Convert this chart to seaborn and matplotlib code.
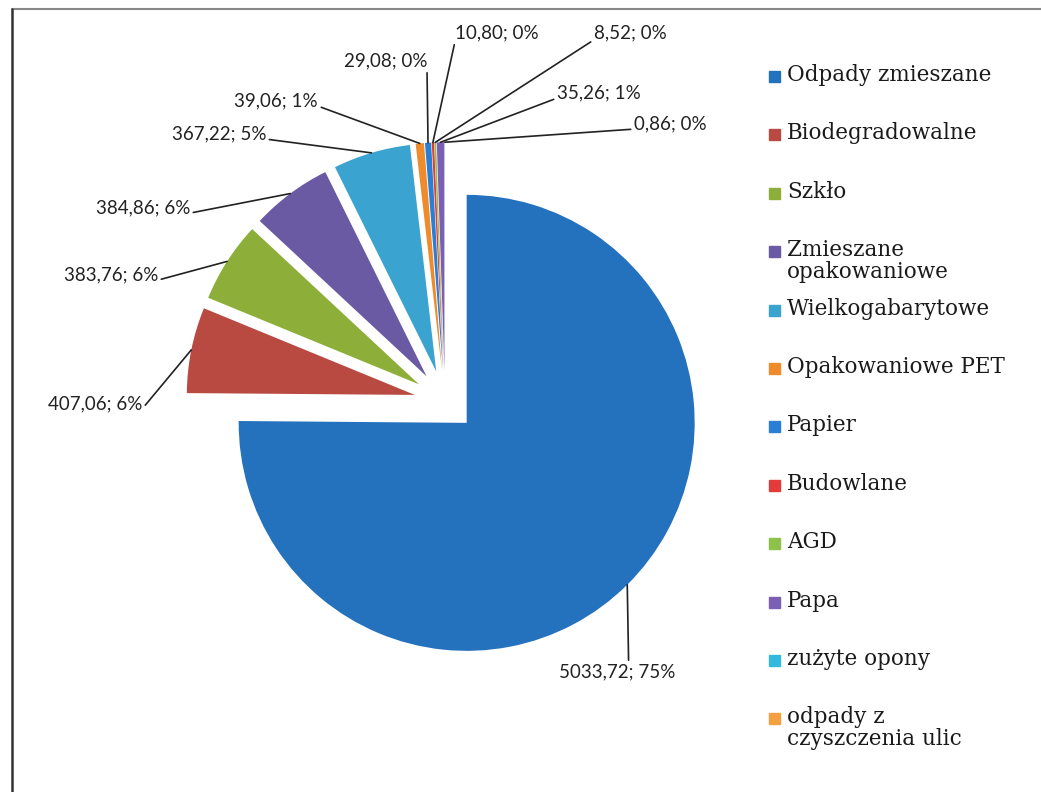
import matplotlib
matplotlib.use('Agg')
import matplotlib.pyplot as plt
import seaborn as sns
import numpy as np
from matplotlib.patches import Rectangle
from matplotlib.lines import Line2D

# dane
kategorie = ['Odpady zmieszane', 'Biodegradowalne', 'Szkło', 'Zmieszane\nopakowaniowe',
             'Wielkogabarytowe', 'Opakowaniowe PET', 'Papier', 'Budowlane', 'AGD', 'Papa',
             'zużyte opony', 'odpady z\nczyszczenia ulic']
wartosci = [5033.72, 407.06, 383.76, 384.86, 367.22, 39.06, 29.08, 10.80, 8.52, 35.26, 0.86, 0.0]
kolory = ['#2471BE', '#B94A42', '#8DAF3A', '#6A5AA3', '#3AA3D0', '#EE8B2C',
          '#2A7FD4', '#E53A3A', '#8EC14A', '#7B5FB5', '#33B8E0', '#F5A040']

# pozycje etykiet (piksele od lewego górnego rogu), wyrównanie, punkt zaczepienia linii
etykiety_poz = [(617, 672, 'center', (0.6, 1.0)),
                (142, 404, 'right', (1.0, 0.2)),
                (158, 275, 'right', (1.0, 0.2)),
                (190, 208, 'right', (1.0, 0.2)),
                (266, 134, 'right', (1.0, 0.2)),
                (318, 101, 'right', (1.0, 0.2)),
                (427, 61, 'right', (1.0, 0.0)),
                (455, 33, 'left', (0.0, 0.0)),
                (594, 33, 'left', (0.0, 0.1)),
                (557, 93, 'left', (0.0, 0.2)),
                (634, 124, 'left', (0.0, 0.2))]

sns.set_style('white')
plt.rcParams['font.family'] = ['Lato', 'DejaVu Sans']

W, H = 1041, 792
fig = plt.figure(figsize=(W / 100, H / 100), dpi=100)

ax = fig.add_axes([160 / W, 106 / H, 570 / W, 570 / H])
wedges, _ = ax.pie(wartosci, colors=kolory, startangle=90, counterclock=False,
                   explode=[0.135] * len(wartosci), radius=1,
                   wedgeprops={'linewidth': 0})
ax.set_xlim(-1.25, 1.25)
ax.set_ylim(-1.25, 1.25)
ax.set_aspect('equal')

suma = sum(wartosci)
for w, v, (x, y, ha, rp) in zip(wedges, wartosci, etykiety_poz):
    kat = np.deg2rad((w.theta1 + w.theta2) / 2)
    cx, cy = w.center
    px, py = cx + w.r * np.cos(kat), cy + w.r * np.sin(kat)
    tekst = f'{v:.2f}'.replace('.', ',') + f'; {round(v / suma * 100):.0f}%'
    ax.annotate(tekst, xy=(px, py), xytext=(x, H - y), textcoords='figure pixels',
                ha=ha, va='center', fontsize=13.5, color='#222222',
                arrowprops=dict(arrowstyle='-', color='#222222', lw=1.2,
                                shrinkA=0, shrinkB=0, relpos=rp))

# legenda
lax = fig.add_axes([0, 0, 1, 1])
lax.set_xlim(0, W)
lax.set_ylim(H, 0)
lax.axis('off')
for i, (lab, kol) in enumerate(zip(kategorie, kolory)):
    y = 76 + i * 58.4
    lax.add_patch(Rectangle((769, y - 5), 11, 11, color=kol))
    lax.text(787, y - 12, lab, ha='left', va='top', fontsize=15.5,
             family=['DejaVu Serif'], color='#1a1a1a', linespacing=1.0)

# ramka
fig.add_artist(Line2D([12 / W, 1], [1 - 9 / H, 1 - 9 / H], color='#888888', lw=1.5))
fig.add_artist(Line2D([12 / W, 12 / W], [0, 1 - 9 / H], color='#333333', lw=1.8))

fig.savefig('out.png', dpi=100)
